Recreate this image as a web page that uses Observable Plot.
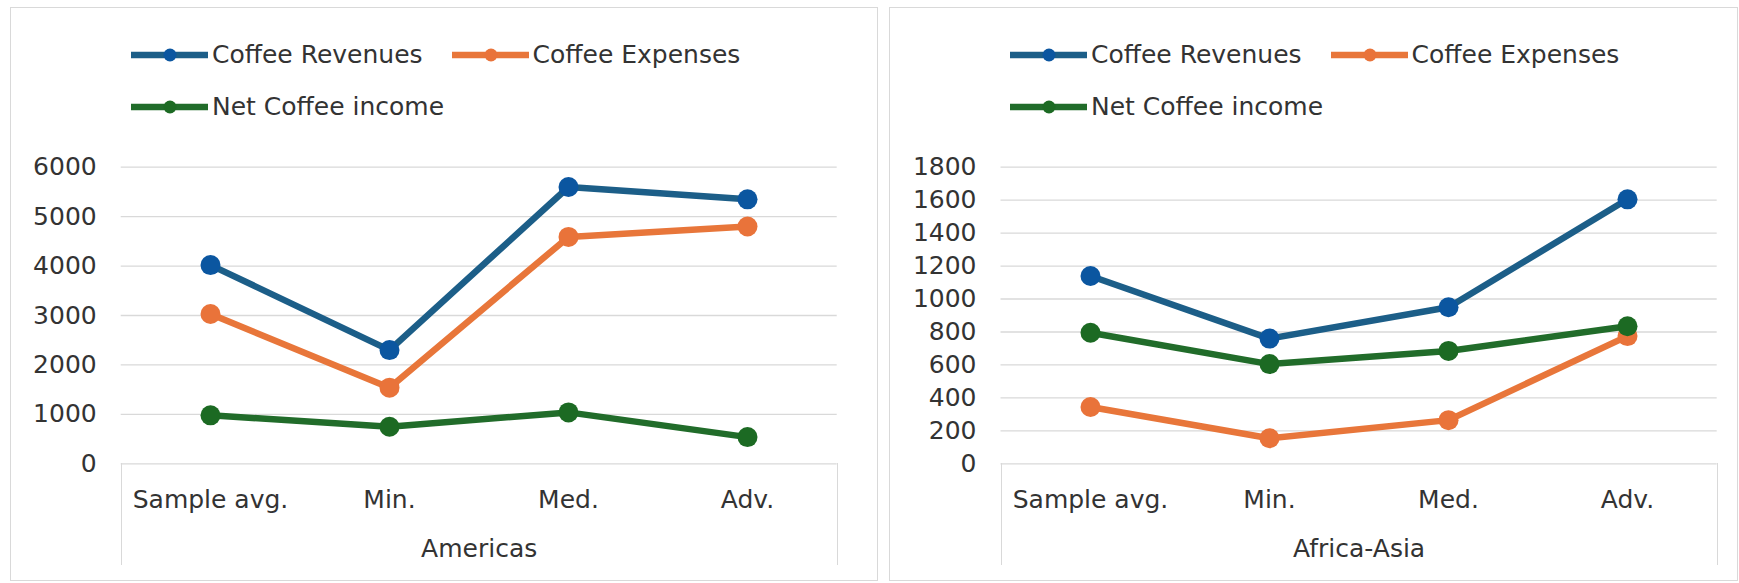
<!DOCTYPE html>
<html>
<head>
<meta charset="utf-8">
<script src="https://cdn.jsdelivr.net/npm/d3@7"></script>
<script src="https://cdn.jsdelivr.net/npm/@observablehq/plot@0.6"></script>
<style>
  body { margin: 0; background: #fff; font-family: "DejaVu Sans", Verdana, sans-serif; color: #333; }
  #page { position: relative; width: 1739px; height: 583px; overflow: hidden; background: #fff; }
  .panel { position: absolute; top: 7px; height: 574px; border: 1px solid #d9d9d9; box-sizing: border-box; }
  .legend { position: absolute; top: 40px; width: 640px; display: flex; flex-wrap: wrap; column-gap: 29px; row-gap: 21.7px; font-size: 25px; line-height: 30px; color: #333; }
  .legend-item { display: flex; align-items: center; white-space: nowrap; }
  .legend-item svg { margin-right: 4px; }
  .chart { position: absolute; }
  .axis-box { position: absolute; border-left: 1px solid #d9d9d9; border-right: 1px solid #d9d9d9; box-sizing: border-box; }
</style>
</head>
<body>
<div id="page"></div>
<script>
// Categories along the x axis
const categories = ["Sample avg.", "Min.", "Med.", "Adv."];

// Series names and colours (line stroke, marker fill)
const seriesNames = ["Coffee Revenues", "Coffee Expenses", "Net Coffee income"];
const lineColors = ["#1c5e88", "#e8763a", "#216c2a"];
const markerColors = ["#0b56a0", "#e9733a", "#1c6a23"];

// Americas
const americasRevenues = [4020, 2300, 5600, 5350];
const americasExpenses = [3030, 1540, 4590, 4800];
const americasNet = [980, 750, 1040, 540];
const americasTicks = [0, 1000, 2000, 3000, 4000, 5000, 6000];

// Africa-Asia
const africaAsiaRevenues = [1140, 760, 950, 1605];
const africaAsiaExpenses = [345, 155, 265, 775];
const africaAsiaNet = [795, 605, 685, 835];
const africaAsiaTicks = [0, 200, 400, 600, 800, 1000, 1200, 1400, 1600, 1800];

const page = document.getElementById("page");

function legend(panelLeft) {
  const div = document.createElement("div");
  div.className = "legend";
  div.style.left = (panelLeft + 121) + "px";
  seriesNames.forEach((name, i) => {
    const item = document.createElement("div");
    item.className = "legend-item";
    const ns = "http://www.w3.org/2000/svg";
    const sw = document.createElementNS(ns, "svg");
    sw.setAttribute("width", 77);
    sw.setAttribute("height", 30);
    const ln = document.createElementNS(ns, "line");
    ln.setAttribute("x1", 1); ln.setAttribute("x2", 76);
    ln.setAttribute("y1", 15); ln.setAttribute("y2", 15);
    ln.setAttribute("stroke", lineColors[i]);
    ln.setAttribute("stroke-width", 6.5);
    ln.setAttribute("stroke-linecap", "round");
    const c = document.createElementNS(ns, "circle");
    c.setAttribute("cx", 39); c.setAttribute("cy", 15); c.setAttribute("r", 6.5);
    c.setAttribute("fill", markerColors[i]);
    sw.appendChild(ln); sw.appendChild(c);
    const label = document.createElement("span");
    label.textContent = name;
    item.appendChild(sw); item.appendChild(label);
    div.appendChild(item);
  });
  return div;
}

function panel({ panelLeft, panelWidth, chartLeft, chartWidth, marginLeft, marginRight, region, values, ticks }) {
  const box = document.createElement("div");
  box.className = "panel";
  box.style.left = panelLeft + "px";
  box.style.width = panelWidth + "px";
  page.appendChild(box);
  page.appendChild(legend(panelLeft));

  const chartTop = 120, chartHeight = 460, marginTop = 46.7, marginBottom = 116.7;

  const rows = [];
  seriesNames.forEach((s, i) => categories.forEach((c, j) => rows.push({ series: s, category: c, value: values[i][j] })));

  const marks = [
    Plot.gridY(ticks, { stroke: "#d9d9d9", strokeOpacity: 1, strokeWidth: 1.3 }),
    Plot.axisY(ticks, { tickSize: 0, tickPadding: 24.5, tickFormat: d => String(d), label: null }),
    Plot.axisX({ tickSize: 0, tickPadding: 26, label: null }),
    Plot.text([region], { frameAnchor: "bottom", dy: 93, fill: "#333" })
  ];
  seriesNames.forEach((s, i) => {
    const d = rows.filter(r => r.series === s);
    marks.push(Plot.line(d, { x: "category", y: "value", stroke: lineColors[i], strokeWidth: 6.5 }));
    marks.push(Plot.dot(d, { x: "category", y: "value", r: 10, fill: markerColors[i], stroke: null }));
  });

  const chart = Plot.plot({
    width: chartWidth,
    height: chartHeight,
    marginLeft, marginRight, marginTop, marginBottom,
    x: { type: "point", domain: categories, padding: 0.5 },
    y: { domain: [ticks[0], ticks[ticks.length - 1]] },
    style: { fontFamily: "DejaVu Sans, Verdana, sans-serif", fontSize: "25px", color: "#333", background: "transparent", overflow: "visible" },
    marks
  });
  chart.classList.add("chart");
  chart.style.left = chartLeft + "px";
  chart.style.top = chartTop + "px";
  chart.style.maxWidth = "none";
  page.appendChild(chart);

  // category axis frame below the zero line
  const ab = document.createElement("div");
  ab.className = "axis-box";
  ab.style.left = (chartLeft + marginLeft) + "px";
  ab.style.width = (chartWidth - marginLeft - marginRight + 1) + "px";
  ab.style.top = (chartTop + chartHeight - marginBottom) + "px";
  ab.style.height = "102px";
  page.appendChild(ab);
}

panel({
  panelLeft: 10, panelWidth: 868, chartLeft: 0, chartWidth: 878,
  marginLeft: 120.7, marginRight: 41.3,
  region: "Americas",
  values: [americasRevenues, americasExpenses, americasNet],
  ticks: americasTicks
});
panel({
  panelLeft: 889, panelWidth: 849, chartLeft: 880, chartWidth: 859,
  marginLeft: 120.5, marginRight: 22.3,
  region: "Africa-Asia",
  values: [africaAsiaRevenues, africaAsiaExpenses, africaAsiaNet],
  ticks: africaAsiaTicks
});
</script>
</body>
</html>
